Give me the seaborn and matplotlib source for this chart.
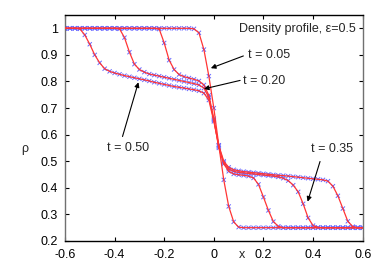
import numpy as np
import pandas as pd
import matplotlib
matplotlib.use("Agg")
import matplotlib.pyplot as plt
import seaborn as sns

# ---------------- data ----------------
x_grid = [-0.60, -0.58, -0.56, -0.54, -0.52, -0.50, -0.48, -0.46, -0.44, -0.42,
          -0.40, -0.38, -0.36, -0.34, -0.32, -0.30, -0.28, -0.26, -0.24, -0.22,
          -0.20, -0.18, -0.16, -0.14, -0.12, -0.10, -0.08, -0.06, -0.04, -0.02,
          0.00, 0.02, 0.04, 0.06, 0.08, 0.10, 0.12, 0.14, 0.16, 0.18,
          0.20, 0.22, 0.24, 0.26, 0.28, 0.30, 0.32, 0.34, 0.36, 0.38,
          0.40, 0.42, 0.44, 0.46, 0.48, 0.50, 0.52, 0.54, 0.56, 0.58, 0.60]

rho_t005 = [1.0, 1.0, 1.0, 1.0, 1.0, 1.0, 1.0, 1.0, 1.0, 1.0,
            1.0, 1.0, 1.0, 1.0, 1.0, 1.0, 1.0, 1.0, 1.0, 1.0,
            1.0, 1.0, 1.0, 1.0, 1.0, 1.0, 0.998, 0.983, 0.92, 0.82,
            0.70, 0.56, 0.43, 0.33, 0.272, 0.252, 0.25, 0.25, 0.25, 0.25,
            0.25, 0.25, 0.25, 0.25, 0.25, 0.25, 0.25, 0.25, 0.25, 0.25,
            0.25, 0.25, 0.25, 0.25, 0.25, 0.25, 0.25, 0.25, 0.25, 0.25, 0.25]

rho_t020 = [1.0, 1.0, 1.0, 1.0, 1.0, 1.0, 1.0, 1.0, 1.0, 1.0,
            1.0, 1.0, 1.0, 1.0, 1.0, 1.0, 1.0, 1.0, 1.0, 0.997,
            0.945, 0.88, 0.845, 0.826, 0.818, 0.813, 0.808, 0.802, 0.787, 0.748,
            0.66, 0.55, 0.49, 0.462, 0.452, 0.449, 0.447, 0.444, 0.437, 0.413,
            0.365, 0.315, 0.273, 0.255, 0.25, 0.25, 0.25, 0.25, 0.25, 0.25,
            0.25, 0.25, 0.25, 0.25, 0.25, 0.25, 0.25, 0.25, 0.25, 0.25, 0.25]

rho_t035 = [1.0, 1.0, 1.0, 1.0, 1.0, 1.0, 1.0, 1.0, 1.0, 1.0,
            1.0, 0.998, 0.965, 0.91, 0.865, 0.845, 0.835, 0.828, 0.824, 0.82,
            0.816, 0.812, 0.808, 0.804, 0.80, 0.796, 0.792, 0.787, 0.775, 0.74,
            0.655, 0.555, 0.495, 0.47, 0.462, 0.458, 0.456, 0.454, 0.452, 0.45,
            0.448, 0.446, 0.444, 0.441, 0.436, 0.427, 0.41, 0.385, 0.34, 0.287,
            0.258, 0.251, 0.25, 0.25, 0.25, 0.25, 0.25, 0.25, 0.25, 0.25, 0.25]

rho_t050 = [1.0, 1.0, 1.0, 0.998, 0.975, 0.94, 0.90, 0.87, 0.848, 0.838,
            0.832, 0.827, 0.822, 0.818, 0.814, 0.81, 0.806, 0.802, 0.797, 0.793,
            0.789, 0.785, 0.781, 0.778, 0.775, 0.772, 0.769, 0.765, 0.756, 0.73,
            0.65, 0.56, 0.50, 0.477, 0.468, 0.464, 0.461, 0.459, 0.457, 0.455,
            0.453, 0.451, 0.449, 0.447, 0.446, 0.444, 0.442, 0.44, 0.438, 0.436,
            0.434, 0.432, 0.43, 0.425, 0.406, 0.37, 0.322, 0.274, 0.254, 0.25, 0.25]

times = ["0.05", "0.20", "0.35", "0.50"]
profiles = [rho_t005, rho_t020, rho_t035, rho_t050]

x_ticks = [-0.6, -0.4, -0.2, 0, 0.2, 0.4, 0.6]
x_ticklabels = ["-0.6", "-0.4", "-0.2", "0", "0.2", "0.4", "0.6"]
y_ticks = [0.2, 0.3, 0.4, 0.5, 0.6, 0.7, 0.8, 0.9, 1.0]
y_ticklabels = ["0.2", "0.3", "0.4", "0.5", "0.6", "0.7", "0.8", "0.9", "1"]

title_text = "Density profile, \u03b5=0.5"
label_texts = ["t = 0.05", "t = 0.20", "t = 0.50", "t = 0.35"]
label_pos = [(0.139, 0.901), (0.119, 0.80), (-0.345, 0.549), (0.478, 0.547)]
label_ha = ["left", "left", "center", "center"]
arrow_start = [(0.119, 0.896), (0.106, 0.804), (-0.368, 0.593), (0.428, 0.499)]
arrow_tip = [(-0.012, 0.85), (-0.040, 0.772), (-0.304, 0.797), (0.378, 0.348)]

df = pd.DataFrame({
    "x": np.tile(x_grid, len(times)),
    "rho": np.concatenate(profiles),
    "t": np.repeat(times, len(x_grid)),
})

# ---------------- plot ----------------
sns.set_style("ticks")
plt.rcParams["font.family"] = ["Liberation Sans", "DejaVu Sans"]
plt.rcParams["axes.unicode_minus"] = False

fig = plt.figure(figsize=(3.82, 2.67), dpi=100)
ax = fig.add_axes([0.170, 0.0974, 0.7795, 0.8464])

sns.scatterplot(data=df, x="x", y="rho", hue="t",
                palette=["#6a6aff"] * 4, marker="x", s=9, linewidth=0.7,
                legend=False, ax=ax, zorder=2)
sns.lineplot(data=df, x="x", y="rho", hue="t",
             palette=["#ff3535"] * 4, linewidth=0.9,
             legend=False, ax=ax, zorder=3)

ax.set_xlim(-0.6, 0.6)
ax.set_ylim(0.2, 1.05)
ax.set_xticks(x_ticks)
ax.set_xticklabels(x_ticklabels)
ax.set_yticks(y_ticks)
ax.set_yticklabels(y_ticklabels)
ax.tick_params(direction="in", length=3, width=0.8, labelsize=9,
               top=True, right=True, colors="black")
ax.tick_params(axis="x", pad=6)
ax.tick_params(axis="y", pad=5)

for side in ["top", "bottom"]:
    ax.spines[side].set_color("black")
    ax.spines[side].set_linewidth(1.0)
for side in ["left", "right"]:
    ax.spines[side].set_color("#707070")
    ax.spines[side].set_linewidth(1.0)

ax.set_xlabel("x", fontsize=9)
ax.xaxis.set_label_coords(0.594, -0.062)
ax.xaxis.label.set_va("center")
ax.set_ylabel("\u03c1", fontsize=9, rotation=0)
ax.yaxis.set_label_coords(-0.134, 0.407)
ax.yaxis.label.set_va("center")

ax.text(0.572, 0.998, title_text, ha="right", va="center", fontsize=9)
for txt, pos, ha in zip(label_texts, label_pos, label_ha):
    ax.text(pos[0], pos[1], txt, ha=ha, va="center", fontsize=9)
for s, tip in zip(arrow_start, arrow_tip):
    ax.annotate("", xy=tip, xytext=s,
                arrowprops=dict(arrowstyle="-|>", color="black", lw=0.8,
                                mutation_scale=7, shrinkA=0, shrinkB=0))

fig.savefig("out.png", dpi=100)
